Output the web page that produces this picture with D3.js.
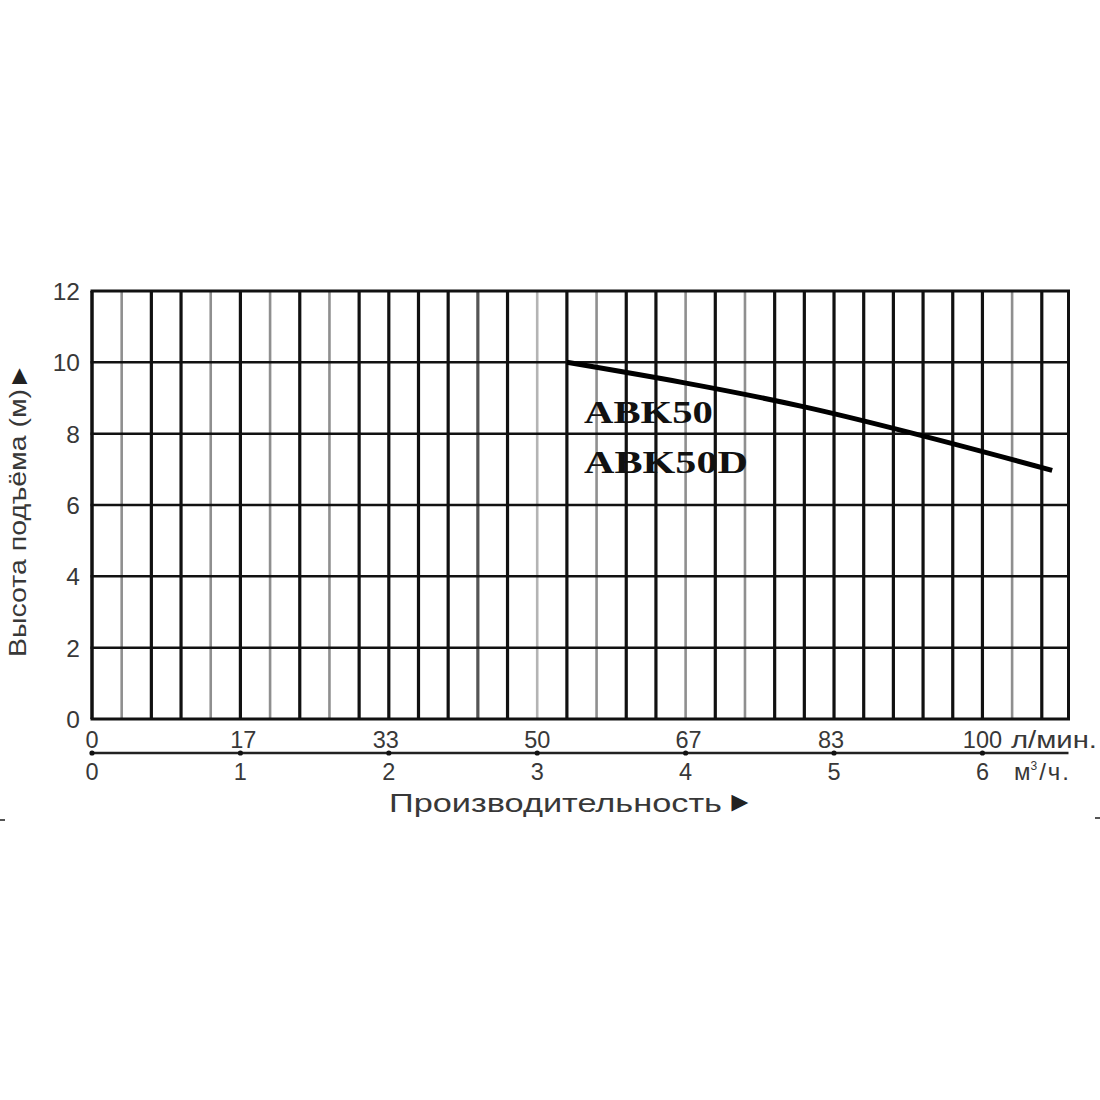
<!DOCTYPE html>
<html>
<head>
<meta charset="utf-8">
<script src="https://cdn.jsdelivr.net/npm/d3@7"></script>
<style>
  html, body { margin: 0; padding: 0; background: #fff; }
</style>
</head>
<body>
<div id="chart"></div>
<script>
// Curve data (flow in m3/h, head in m)
const flowM3h = [3.2, 4.8, 6.47];
const headM = [10.0, 8.75, 6.97];

// Axis ticks
const headTicks = [0, 2, 4, 6, 8, 10, 12];
const m3hTicks = [0, 1, 2, 3, 4, 5, 6];
const lpmTicks = [0, 17, 33, 50, 67, 83, 100];
const seriesNames = ['ABK50', 'ABK50D'];

// Vertical grid every 0.2 m3/h, some of them drawn lighter
const gridStep = 0.2;
const grayLines = [1, 4, 6, 8, 17, 20, 22, 31];
const lightLines = [15];
const midLines = [13];

const width = 1100;
const height = 1100;
const xMax = 6.58;
const font = '"Liberation Sans", Arial, sans-serif';
const textColor = '#383838';

const svg = d3.select('#chart')
  .append('svg')
  .attr('width', width)
  .attr('height', height);

const x = d3.scaleLinear().domain([0, xMax]).range([92, 1068.5]);
const y = d3.scaleLinear().domain([0, 12]).range([719, 291]);
// l/min shares the same pixel scale
const xL = d3.scaleLinear().domain([0, xMax * 1000 / 60]).range(x.range());

const grid = svg.append('g').attr('class', 'grid');

// Vertical lines
const vIdx = d3.range(0, Math.floor(6.4 / gridStep + 0.5) + 1);
grid.selectAll('.vline')
  .data(vIdx)
  .join('line')
  .attr('class', 'vline')
  .attr('x1', i => x(i * gridStep))
  .attr('x2', i => x(i * gridStep))
  .attr('y1', y(12))
  .attr('y2', y(0))
  .attr('stroke', i => lightLines.includes(i) ? '#b4b4b4'
    : grayLines.includes(i) ? '#8f8f8f'
    : midLines.includes(i) ? '#555' : '#111')
  .attr('stroke-width', i => i === 0 ? 3.5 : (grayLines.includes(i) || lightLines.includes(i)) ? 2.6 : 3.2);

// Right border
grid.append('line')
  .attr('x1', x(xMax)).attr('x2', x(xMax))
  .attr('y1', y(12)).attr('y2', y(0))
  .attr('stroke', '#111').attr('stroke-width', 3);

// Horizontal lines
grid.selectAll('.hline')
  .data(headTicks)
  .join('line')
  .attr('class', 'hline')
  .attr('x1', x(0) - 1.5)
  .attr('x2', x(xMax) + 1.5)
  .attr('y1', d => y(d))
  .attr('y2', d => y(d))
  .attr('stroke', '#111')
  .attr('stroke-width', d => (d === 0 || d === 12) ? 3 : 2.5);

// Y tick labels
svg.append('g')
  .selectAll('text')
  .data(headTicks)
  .join('text')
  .attr('x', 80)
  .attr('y', d => y(d) + 9)
  .attr('text-anchor', 'end')
  .attr('font-family', font)
  .attr('font-size', 24.5)
  .attr('fill', textColor)
  .text(d => d);

// Y title
svg.append('text')
  .attr('transform', 'translate(26,657) rotate(-90)')
  .attr('font-family', font)
  .attr('font-size', 24)
  .attr('fill', textColor)
  .attr('textLength', 268)
  .attr('lengthAdjust', 'spacingAndGlyphs')
  .text('Высота подъёма (м)');
svg.append('text')
  .attr('transform', 'translate(27,389) rotate(-90)')
  .attr('font-family', font)
  .attr('font-size', 26)
  .attr('fill', '#222')
  .text('►');

// Flow axis line with dots
const axisY = 753;
svg.append('line')
  .attr('x1', x(0)).attr('x2', x(xMax))
  .attr('y1', axisY).attr('y2', axisY)
  .attr('stroke', '#222').attr('stroke-width', 2.5);
svg.selectAll('.dot')
  .data(m3hTicks)
  .join('circle')
  .attr('class', 'dot')
  .attr('cx', d => x(d))
  .attr('cy', axisY)
  .attr('r', 2.6)
  .attr('fill', '#111');

// l/min labels
svg.append('g')
  .selectAll('text')
  .data(lpmTicks)
  .join('text')
  .attr('x', d => xL(d))
  .attr('y', 748)
  .attr('text-anchor', 'middle')
  .attr('font-family', font)
  .attr('font-size', 23.5)
  .attr('fill', textColor)
  .text(d => d);
svg.append('text')
  .attr('x', 1011).attr('y', 748)
  .attr('font-family', font)
  .attr('font-size', 23.5)
  .attr('fill', textColor)
  .attr('textLength', 86)
  .attr('lengthAdjust', 'spacingAndGlyphs')
  .text('л/мин.');

// m3/h labels
svg.append('g')
  .selectAll('text')
  .data(m3hTicks)
  .join('text')
  .attr('x', d => x(d))
  .attr('y', 780)
  .attr('text-anchor', 'middle')
  .attr('font-family', font)
  .attr('font-size', 23.5)
  .attr('fill', textColor)
  .text(d => d);
svg.append('text')
  .attr('x', 1014).attr('y', 780)
  .attr('font-family', font)
  .attr('font-size', 24)
  .attr('fill', textColor)
  .html('м<tspan dy="-10" font-size="12">3</tspan><tspan dy="10" dx="2" letter-spacing="2">/ч.</tspan>');

// X title
svg.append('text')
  .attr('x', 389).attr('y', 812)
  .attr('font-family', font)
  .attr('font-size', 25)
  .attr('fill', textColor)
  .attr('textLength', 333)
  .attr('lengthAdjust', 'spacingAndGlyphs')
  .text('Производительность');
svg.append('text')
  .attr('x', 726).attr('y', 811)
  .attr('font-family', font)
  .attr('font-size', 28)
  .attr('fill', '#222')
  .text('►');

// Pump curve
const points = flowM3h.map((q, i) => [q, headM[i]]);
const line = d3.line()
  .x(d => x(d[0]))
  .y(d => y(d[1]))
  .curve(d3.curveNatural);
svg.append('path')
  .datum(points)
  .attr('d', line)
  .attr('fill', 'none')
  .attr('stroke', '#000')
  .attr('stroke-width', 5);

// Series labels
svg.append('g')
  .selectAll('text')
  .data(seriesNames)
  .join('text')
  .attr('x', 584)
  .attr('y', (d, i) => 423 + i * 50)
  .attr('font-family', '"Liberation Serif", "Times New Roman", serif')
  .attr('font-weight', 'bold')
  .attr('font-size', 31)
  .attr('fill', '#111')
  .attr('textLength', d => d.length === 5 ? 129 : 164)
  .attr('lengthAdjust', 'spacingAndGlyphs')
  .text(d => d);

// small scan marks at the edges
svg.append('line').attr('x1', 0).attr('x2', 5).attr('y1', 820).attr('y2', 820)
  .attr('stroke', '#555').attr('stroke-width', 2);
svg.append('line').attr('x1', 1095).attr('x2', 1100).attr('y1', 818).attr('y2', 818)
  .attr('stroke', '#555').attr('stroke-width', 2);
</script>
</body>
</html>
